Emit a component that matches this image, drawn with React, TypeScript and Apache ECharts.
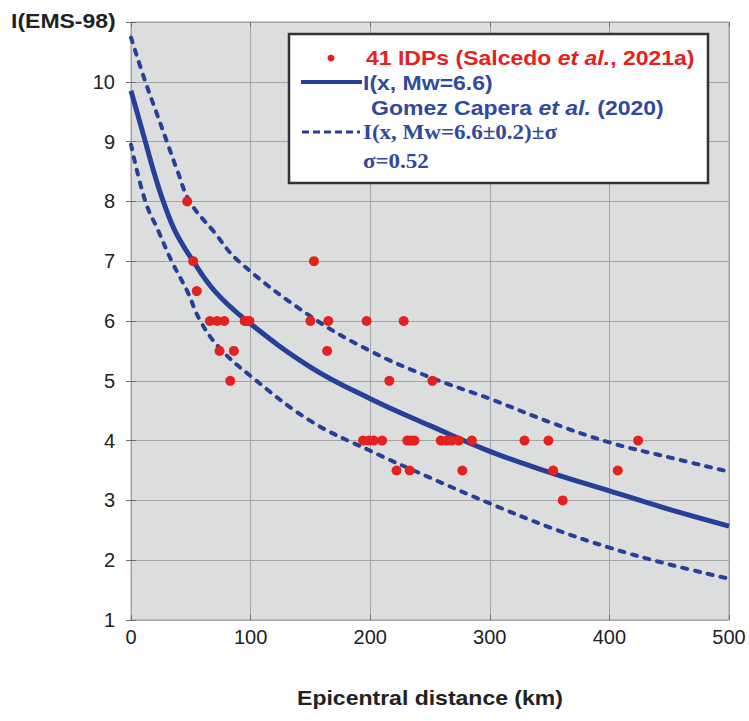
import React, { useEffect, useRef } from "react";
import * as echarts from "echarts";

// Observed intensity data points (IDPs): epicentral distance (km) and intensity
const idpDistance = [
  47, 52, 153, 55,
  66, 72, 78, 95, 97, 99, 150, 165, 197, 228,
  74, 86, 164,
  83, 216, 252,
  194, 199, 203, 210, 231, 234, 237, 259, 264, 268, 274, 285, 329, 349, 424,
  222, 233, 277, 353, 407,
  361,
];
const idpIntensity = [
  8, 7, 7, 6.5,
  6, 6, 6, 6, 6, 6, 6, 6, 6, 6,
  5.5, 5.5, 5.5,
  5, 5, 5,
  4, 4, 4, 4, 4, 4, 4, 4, 4, 4, 4, 4, 4, 4, 4,
  3.5, 3.5, 3.5, 3.5, 3.5,
  3,
];

// Curves
const meanDist = [0, 12, 19, 27, 37, 52, 70, 97, 150, 200, 250, 300, 350, 400, 450, 500];
const meanI = [9.85, 9.0, 8.5, 8.0, 7.5, 7.0, 6.5, 6.0, 5.23, 4.7, 4.25, 3.82, 3.47, 3.16, 2.85, 2.57];

const upperDist = [0, 12, 21, 30, 39, 49, 69, 90, 150, 200, 250, 300, 350, 400, 450, 500];
const upperI = [10.74, 10.0, 9.5, 9.0, 8.5, 8.0, 7.5, 7.0, 6.08, 5.5, 5.06, 4.7, 4.31, 3.97, 3.72, 3.48];

const lowerDist = [0, 12, 23, 34, 47, 58, 74, 100, 150, 200, 250, 300, 350, 400, 450, 500];
const lowerI = [8.95, 8.0, 7.5, 7.0, 6.5, 6.0, 5.55, 5.08, 4.33, 3.83, 3.38, 2.95, 2.55, 2.21, 1.93, 1.69];

const xTicks = [0, 100, 200, 300, 400, 500];
const yMin = 1;
const yMax = 11;

const SANS = "'Liberation Sans', Arial, Helvetica, sans-serif";
const SERIF = "'Liberation Serif', 'Times New Roman', serif";
const RED = "#e3221f";
const BLUE_LINE = "#26409a";
const BLUE_TEXT = "#2f4a9e";
const SX = 1.15;

const zip = (a: number[], b: number[]) => a.map((v, i) => [v, b[i]]);

export default function App() {
  const ref = useRef<HTMLDivElement>(null);
  useEffect(() => {
    if (!ref.current) return;
    const chart = echarts.init(ref.current, undefined, { renderer: "svg" });
    const tickStyle = { show: true, inside: true, length: 5, lineStyle: { color: "#6f6f6f", width: 1 } };
    const option: any = {
      animation: false,
      backgroundColor: "#ffffff",
      grid: {
        left: 131,
        right: 20,
        top: 22,
        bottom: 101,
        show: true,
        backgroundColor: "#dcdedd",
        borderColor: "#9c9c9c",
        borderWidth: 1,
      },
      xAxis: [
        {
          type: "value",
          min: xTicks[0],
          max: xTicks[xTicks.length - 1],
          interval: 100,
          position: "bottom",
          axisLine: { show: false },
          axisTick: tickStyle,
          axisLabel: { fontSize: 20, color: "#222", fontFamily: SANS, margin: 7 },
          splitLine: { show: true, lineStyle: { color: "#a4a4a4", width: 1 } },
        },
        {
          type: "value",
          min: xTicks[0],
          max: xTicks[xTicks.length - 1],
          interval: 100,
          position: "top",
          axisLine: { show: false },
          axisTick: tickStyle,
          axisLabel: { show: false },
          splitLine: { show: false },
        },
      ],
      yAxis: [
        {
          type: "value",
          min: yMin,
          max: yMax,
          interval: 1,
          position: "left",
          axisLine: { show: false },
          axisTick: tickStyle,
          axisLabel: {
            fontSize: 20,
            color: "#222",
            fontFamily: SANS,
            margin: 16,
            formatter: (v: number) => (v === yMax ? "" : String(v)),
          },
          splitLine: { show: true, lineStyle: { color: "#a4a4a4", width: 1 } },
        },
        {
          type: "value",
          min: yMin,
          max: yMax,
          interval: 1,
          position: "right",
          axisLine: { show: false },
          axisTick: tickStyle,
          axisLabel: { show: false },
          splitLine: { show: false },
        },
      ],
      series: [
        {
          type: "line",
          data: zip(upperDist, upperI),
          showSymbol: false,
          smooth: 0.4,
          lineStyle: { color: BLUE_LINE, width: 4, type: [5, 8], cap: "round" },
          z: 2,
        },
        {
          type: "line",
          data: zip(lowerDist, lowerI),
          showSymbol: false,
          smooth: 0.4,
          lineStyle: { color: BLUE_LINE, width: 4, type: [5, 8], cap: "round" },
          z: 2,
        },
        {
          type: "line",
          data: zip(meanDist, meanI),
          showSymbol: false,
          smooth: 0.4,
          lineStyle: { color: BLUE_LINE, width: 5 },
          z: 3,
        },
        {
          type: "scatter",
          data: zip(idpDistance, idpIntensity),
          symbolSize: 10,
          itemStyle: { color: RED, opacity: 1 },
          z: 4,
        },
      ],
      graphic: [
        {
          type: "text",
          x: 11,
          y: 21,
          scaleX: SX,
          style: { text: "I(EMS-98)", font: `bold 20px ${SANS}`, fill: "#222", align: "left", verticalAlign: "middle" },
        },
        {
          type: "text",
          x: 430,
          y: 698,
          scaleX: SX,
          style: {
            text: "Epicentral distance (km)",
            font: `bold 20px ${SANS}`,
            fill: "#222",
            align: "center",
            verticalAlign: "middle",
          },
        },
        {
          type: "rect",
          z: 100,
          shape: { x: 289, y: 34, width: 419, height: 149 },
          style: { fill: "#ffffff", stroke: "#333333", lineWidth: 2.5 },
        },
        {
          type: "circle",
          z: 101,
          shape: { cx: 331, cy: 58, r: 3.5 },
          style: { fill: RED },
        },
        {
          type: "text",
          z: 101,
          x: 366,
          y: 58,
          scaleX: SX,
          style: {
            text: "41 IDPs (Salcedo {i|et al.}, 2021a)",
            font: `bold 20px ${SANS}`,
            fill: RED,
            align: "left",
            verticalAlign: "middle",
            rich: { i: { font: `italic bold 20px ${SANS}`, fill: RED } },
          },
        },
        {
          type: "line",
          z: 101,
          shape: { x1: 301, y1: 82, x2: 362, y2: 82 },
          style: { stroke: BLUE_LINE, lineWidth: 4 },
        },
        {
          type: "text",
          z: 101,
          x: 363,
          y: 83,
          scaleX: SX,
          style: { text: "I(x, Mw=6.6)", font: `bold 20px ${SANS}`, fill: BLUE_TEXT, align: "left", verticalAlign: "middle" },
        },
        {
          type: "text",
          z: 101,
          x: 371,
          y: 108,
          scaleX: SX,
          style: {
            text: "Gomez Capera {i|et al.} (2020)",
            font: `bold 20px ${SANS}`,
            fill: BLUE_TEXT,
            align: "left",
            verticalAlign: "middle",
            rich: { i: { font: `italic bold 20px ${SANS}`, fill: BLUE_TEXT } },
          },
        },
        {
          type: "line",
          z: 101,
          shape: { x1: 302, y1: 132, x2: 360, y2: 132 },
          style: { stroke: BLUE_LINE, lineWidth: 3, lineDash: [7, 4] },
        },
        {
          type: "text",
          z: 101,
          x: 363,
          y: 133,
          scaleX: SX,
          style: {
            text: "I(x, Mw=6.6±0.2)±σ",
            font: `bold 20px ${SERIF}`,
            fill: BLUE_TEXT,
            align: "left",
            verticalAlign: "middle",
          },
        },
        {
          type: "text",
          z: 101,
          x: 363,
          y: 162,
          scaleX: SX,
          style: { text: "σ=0.52", font: `bold 20px ${SERIF}`, fill: BLUE_TEXT, align: "left", verticalAlign: "middle" },
        },
      ],
    };
    chart.setOption(option);
    return () => chart.dispose();
  }, []);
  return <div ref={ref} style={{ width: 749, height: 721, position: "absolute", left: 0, top: 0 }} />;
}
